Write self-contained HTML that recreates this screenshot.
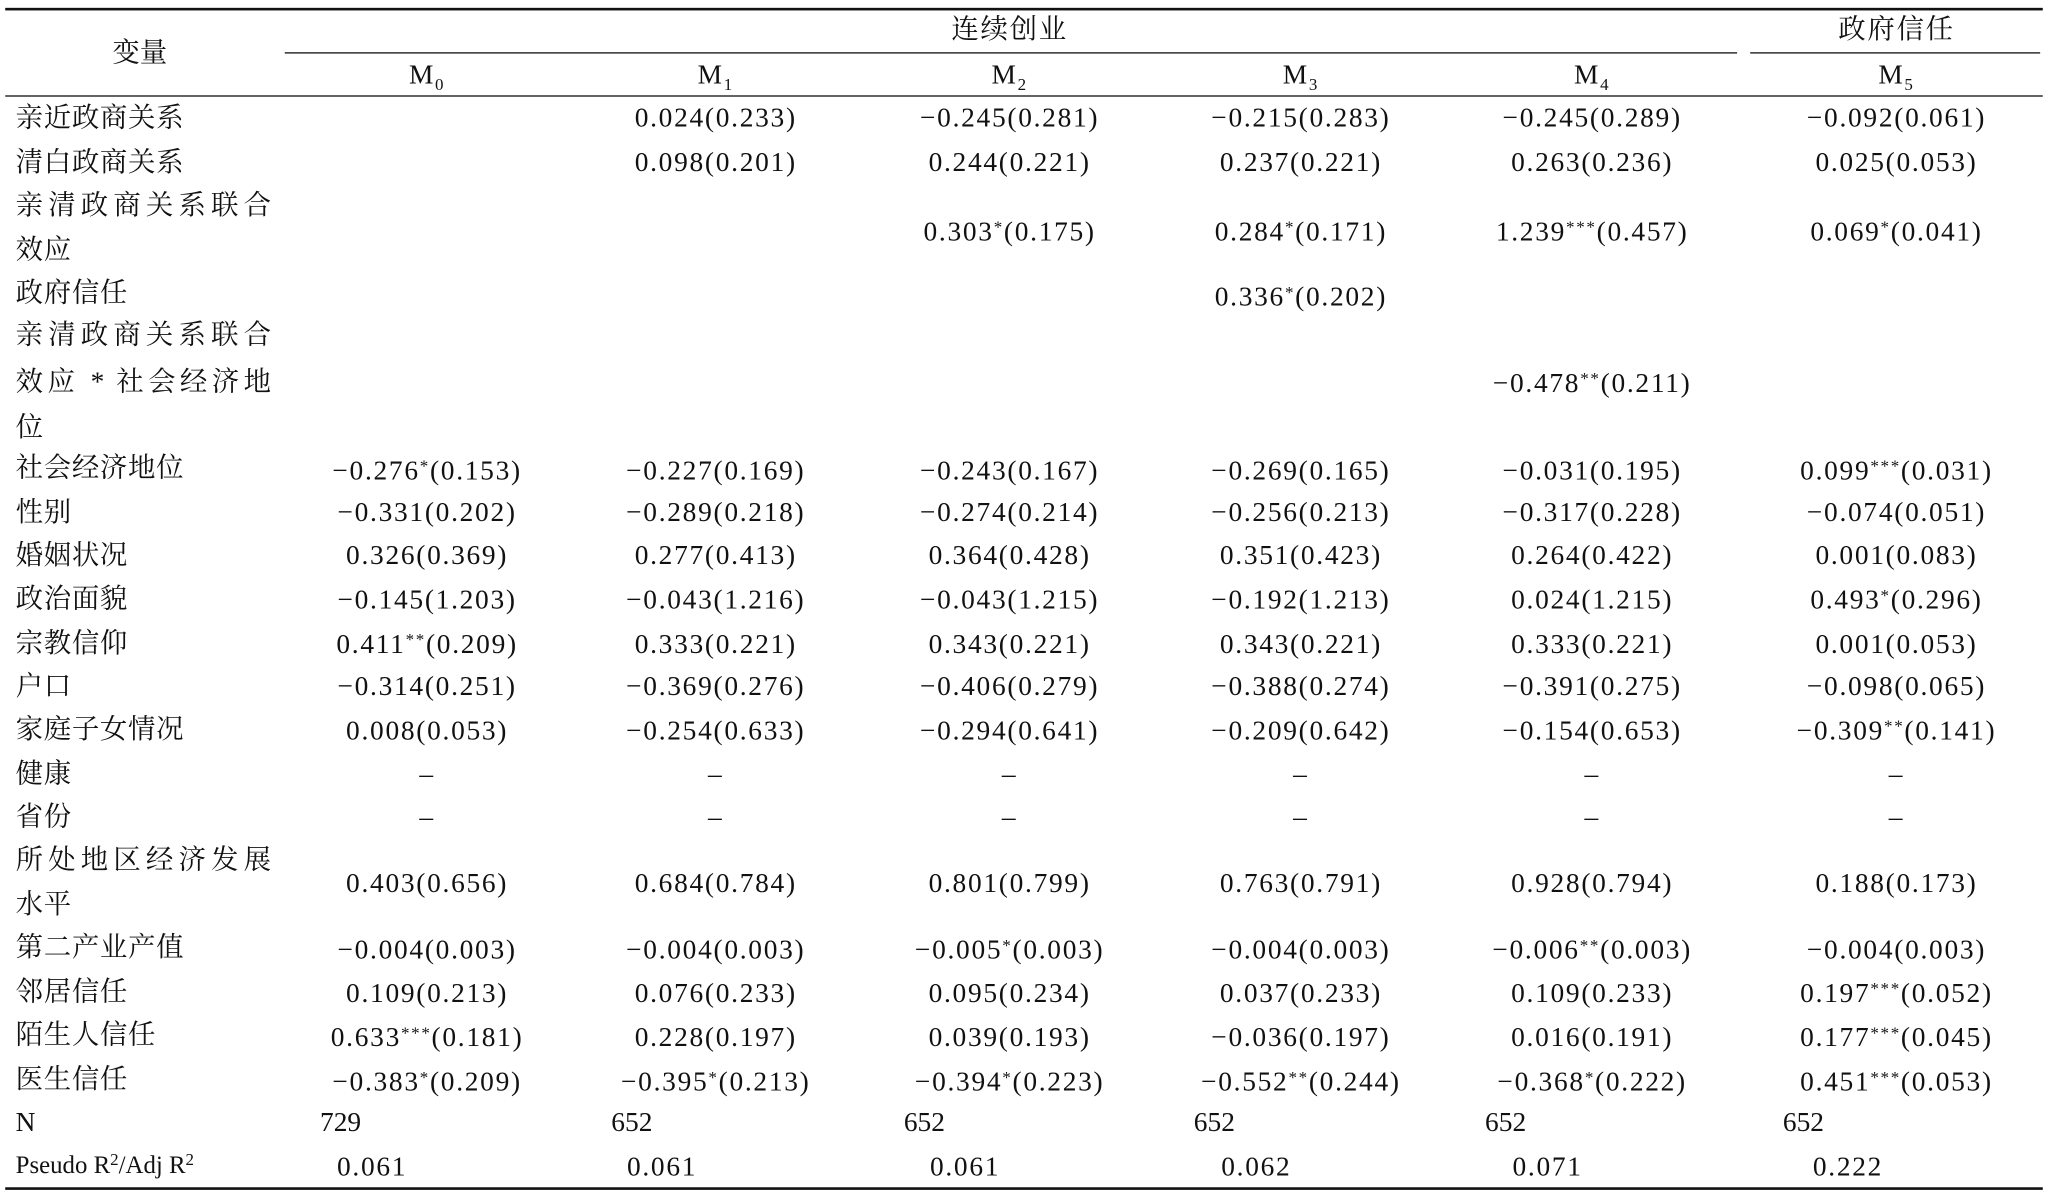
<!DOCTYPE html>
<html><head><meta charset="utf-8">
<style>
html,body{margin:0;padding:0;background:#fff;width:2048px;height:1200px;overflow:hidden}
#wrap{position:absolute;left:0;top:0;width:1568px;height:919px;transform:scale(1.30612);transform-origin:0 0;
font-family:"Liberation Serif","Noto Serif CJK SC",serif;color:#111}
.t{position:absolute;white-space:nowrap;font-size:21px;line-height:24px}
.v{transform:translateX(-50%);letter-spacing:1.3px}
.hl{position:absolute;background:#111}
sup{font-size:13px;vertical-align:6px;line-height:0}
sub{font-size:13px;vertical-align:-5px;line-height:0}
.lab{letter-spacing:0.5px}
</style></head><body>
<div id="wrap">
<div class="hl" style="left:4px;top:6px;width:1560px;height:2px"></div>
<div class="hl" style="left:218px;top:40px;width:1112px;height:1px"></div>
<div class="hl" style="left:1340px;top:40px;width:1222px;height:1px;width:222px"></div>
<div class="hl" style="left:4px;top:73px;width:1560px;height:1px"></div>
<div class="hl" style="left:4px;top:909px;width:1560px;height:2px"></div>
<div class="t" style="left:86px;top:28px">变量</div>
<div class="t v" style="left:773px;top:10px">连续创业</div>
<div class="t v" style="left:1452px;top:10px">政府信任</div>
</div>
<script>
const colX=[327,548,773,996,1219,1452];
const models=["0","1","2","3","4","5"];
const rows=[
[["亲近政商关系"],[90],90,["","0.024(0.233)","−0.245(0.281)","−0.215(0.283)","−0.245(0.289)","−0.092(0.061)"]],
[["清白政商关系"],[124],124,["","0.098(0.201)","0.244(0.221)","0.237(0.221)","0.263(0.236)","0.025(0.053)"]],
[["亲清政商关系联合","效应"],[157,191],177,["","","0.303|*|(0.175)","0.284|*|(0.171)","1.239|***|(0.457)","0.069|*|(0.041)"]],
[["政府信任"],[224],227,["","","","0.336|*|(0.202)","",""]],
[["亲清政商关系联合","效应 * 社会经济地","位"],[256,292,327],293,["","","","","−0.478|**|(0.211)",""]],
[["社会经济地位"],[358],360,["−0.276|*|(0.153)","−0.227(0.169)","−0.243(0.167)","−0.269(0.165)","−0.031(0.195)","0.099|***|(0.031)"]],
[["性别"],[392],392,["−0.331(0.202)","−0.289(0.218)","−0.274(0.214)","−0.256(0.213)","−0.317(0.228)","−0.074(0.051)"]],
[["婚姻状况"],[425],425,["0.326(0.369)","0.277(0.413)","0.364(0.428)","0.351(0.423)","0.264(0.422)","0.001(0.083)"]],
[["政治面貌"],[458],459,["−0.145(1.203)","−0.043(1.216)","−0.043(1.215)","−0.192(1.213)","0.024(1.215)","0.493|*|(0.296)"]],
[["宗教信仰"],[492],493,["0.411|**|(0.209)","0.333(0.221)","0.343(0.221)","0.343(0.221)","0.333(0.221)","0.001(0.053)"]],
[["户口"],[525],525,["−0.314(0.251)","−0.369(0.276)","−0.406(0.279)","−0.388(0.274)","−0.391(0.275)","−0.098(0.065)"]],
[["家庭子女情况"],[558],559,["0.008(0.053)","−0.254(0.633)","−0.294(0.641)","−0.209(0.642)","−0.154(0.653)","−0.309|**|(0.141)"]],
[["健康"],[592],592,["–","–","–","–","–","–"]],
[["省份"],[625],625,["–","–","–","–","–","–"]],
[["所处地区经济发展","水平"],[658,692],676,["0.403(0.656)","0.684(0.784)","0.801(0.799)","0.763(0.791)","0.928(0.794)","0.188(0.173)"]],
[["第二产业产值"],[725],727,["−0.004(0.003)","−0.004(0.003)","−0.005|*|(0.003)","−0.004(0.003)","−0.006|**|(0.003)","−0.004(0.003)"]],
[["邻居信任"],[759],760,["0.109(0.213)","0.076(0.233)","0.095(0.234)","0.037(0.233)","0.109(0.233)","0.197|***|(0.052)"]],
[["陌生人信任"],[792],794,["0.633|***|(0.181)","0.228(0.197)","0.039(0.193)","−0.036(0.197)","0.016(0.191)","0.177|***|(0.045)"]],
[["医生信任"],[826],828,["−0.383|*|(0.209)","−0.395|*|(0.213)","−0.394|*|(0.223)","−0.552|**|(0.244)","−0.368|*|(0.222)","0.451|***|(0.053)"]]
];
const nVals=["729","652","652","652","652","652"];
const nX=[245,468,692,914,1137,1365];
const r2Vals=["0.061","0.061","0.061","0.062","0.071","0.222"];
const r2X=[258,480,712,935,1158,1388];
const wrap=document.getElementById('wrap');
function mk(cls,left,top,html){const d=document.createElement('div');d.className=cls;d.style.left=left+'px';d.style.top=(top-12)+'px';d.innerHTML=html;wrap.appendChild(d);return d;}
models.forEach((m,i)=>{
 const d=mk('t v',colX[i],57,'M<sub>'+m+'</sub>');
 
 
});
rows.forEach((r,ri)=>{
 r[0].forEach((txt,li)=>{
  const full=r[0].length>1&&li<r[0].length-1;
  const d=mk('t lab',12,r[1][li],txt);
  if(full){d.style.width='196px';d.style.textAlign='justify';d.style.textAlignLast='justify';}
  
  
 });
 r[3].forEach((v,ci)=>{
  if(!v)return;
  const p=v.split('|');
  const html=p.length===3?p[0]+'<sup>'+p[1]+'</sup>'+p[2]:p[0];
  const d=mk('t v',colX[ci],r[2],html);
  
  
 });
});
const nl=mk('t',12,859,'N');


nVals.forEach((v,i)=>{
 const d=mk('t',nX[i],859,v);
 
 
});
const rl=mk('t',12,893,'Pseudo R<sup>2</sup>/Adj R<sup>2</sup>');
rl.style.fontSize='19px';


r2Vals.forEach((v,i)=>{
 const d=mk('t',r2X[i],893,v);
 d.style.letterSpacing='1.3px';
 
 
});
</script>
</body></html>
